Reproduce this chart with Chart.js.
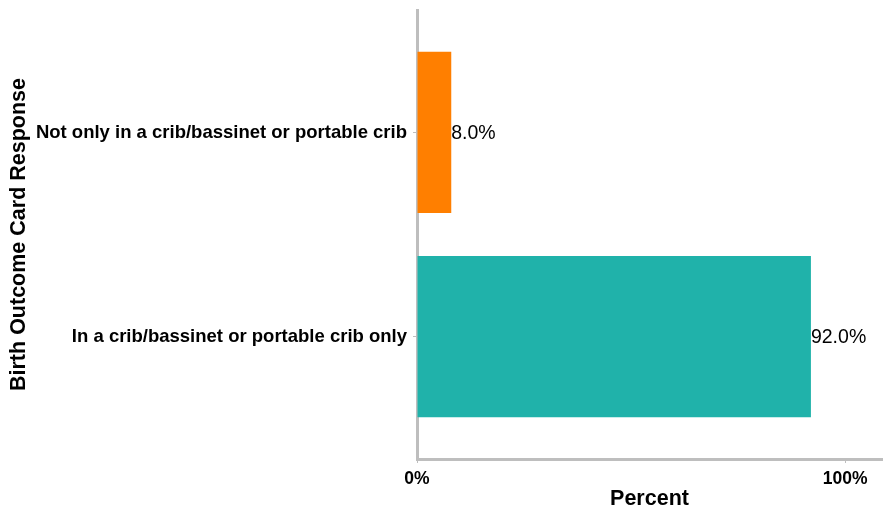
<!DOCTYPE html>
<html>
<head>
<meta charset="utf-8">
<script src="https://cdn.jsdelivr.net/npm/chart.js@4.4.1/dist/chart.umd.min.js"></script>
<style>
html,body{margin:0;padding:0;background:#fff;}
#wrap{width:883px;height:512px;position:relative;}
</style>
</head>
<body>
<div id="wrap"><canvas id="c" width="883" height="512"></canvas></div>
<script>
const categories = ["Not only in a crib/bassinet or portable crib", "In a crib/bassinet or portable crib only"];
const values = [8.0, 92.0];
const barColors = ["#FF7F00", "#20B2AA"];
const xTickValues = [0, 100];
const xTickLabels = ["0%", "100%"];

const FONT = "'Liberation Sans', Arial, sans-serif";
const AXIS_GRAY = "#bebebe";

const valueLabels = {
  id: 'valueLabels',
  afterDatasetsDraw(chart) {
    const ctx = chart.ctx;
    const meta = chart.getDatasetMeta(0);
    ctx.save();
    ctx.font = "19.5px " + FONT;
    ctx.fillStyle = "#000";
    ctx.textAlign = "left";
    ctx.textBaseline = "middle";
    meta.data.forEach((el, i) => {
      ctx.fillText(values[i].toFixed(1) + "%", el.x, el.y + 1);
    });
    ctx.restore();
  }
};

new Chart(document.getElementById('c'), {
  type: 'bar',
  data: {
    datasets: [{
      data: categories.map((c, i) => ({ x: values[i], y: i + 1 })),
      backgroundColor: barColors,
      borderWidth: 0,
      categoryPercentage: 1.0,
      barPercentage: 0.79
    }]
  },
  options: {
    indexAxis: 'y',
    responsive: false,
    animation: false,
    devicePixelRatio: 1,
    layout: { padding: { top: 10, right: 1, left: 0, bottom: 0 } },
    plugins: { legend: { display: false }, tooltip: { enabled: false } },
    scales: {
      x: {
        type: 'linear',
        min: 0,
        max: 108.6,
        afterBuildTicks(scale) { scale.ticks = xTickValues.map(v => ({ value: v })); },
        afterFit(scale) { scale.height = 53; scale.paddingLeft = 0; scale.paddingRight = 0; },
        ticks: {
          callback(v) { const k = xTickValues.indexOf(v); return k >= 0 ? xTickLabels[k] : ''; },
          color: '#000',
          font: { family: FONT, size: 17.5, weight: 'bold' },
          padding: 6,
          maxRotation: 0
        },
        grid: { display: true, drawOnChartArea: false, drawTicks: true, tickLength: 4, color: AXIS_GRAY, lineWidth: 1 },
        border: { display: true, color: AXIS_GRAY, width: 3 },
        title: {
          display: true,
          text: 'Percent',
          color: '#000',
          font: { family: FONT, size: 21.5, weight: 'bold' },
          padding: { top: 0, bottom: 0 }
        }
      },
      y: {
        type: 'linear',
        reverse: true,
        min: 0.4,
        max: 2.6,
        offset: false,
        afterBuildTicks(scale) { scale.ticks = categories.map((c, i) => ({ value: i + 1 })); },
        afterFit(scale) { scale.width = 417; scale.paddingTop = 0; scale.paddingBottom = 0; },
        ticks: {
          callback(v) { return categories[v - 1] || ''; },
          color: '#000',
          font: { family: FONT, size: 18.5, weight: 'bold' },
          padding: 6
        },
        grid: { display: true, offset: false, drawOnChartArea: false, drawTicks: true, tickLength: 4, color: AXIS_GRAY, lineWidth: 1 },
        border: { display: true, color: AXIS_GRAY, width: 3 },
        title: {
          display: true,
          text: 'Birth Outcome Card Response',
          color: '#000',
          font: { family: FONT, size: 21.5, weight: 'bold' },
          padding: { top: 6, bottom: 0 }
        }
      }
    }
  },
  plugins: [valueLabels]
});
</script>
</body>
</html>
